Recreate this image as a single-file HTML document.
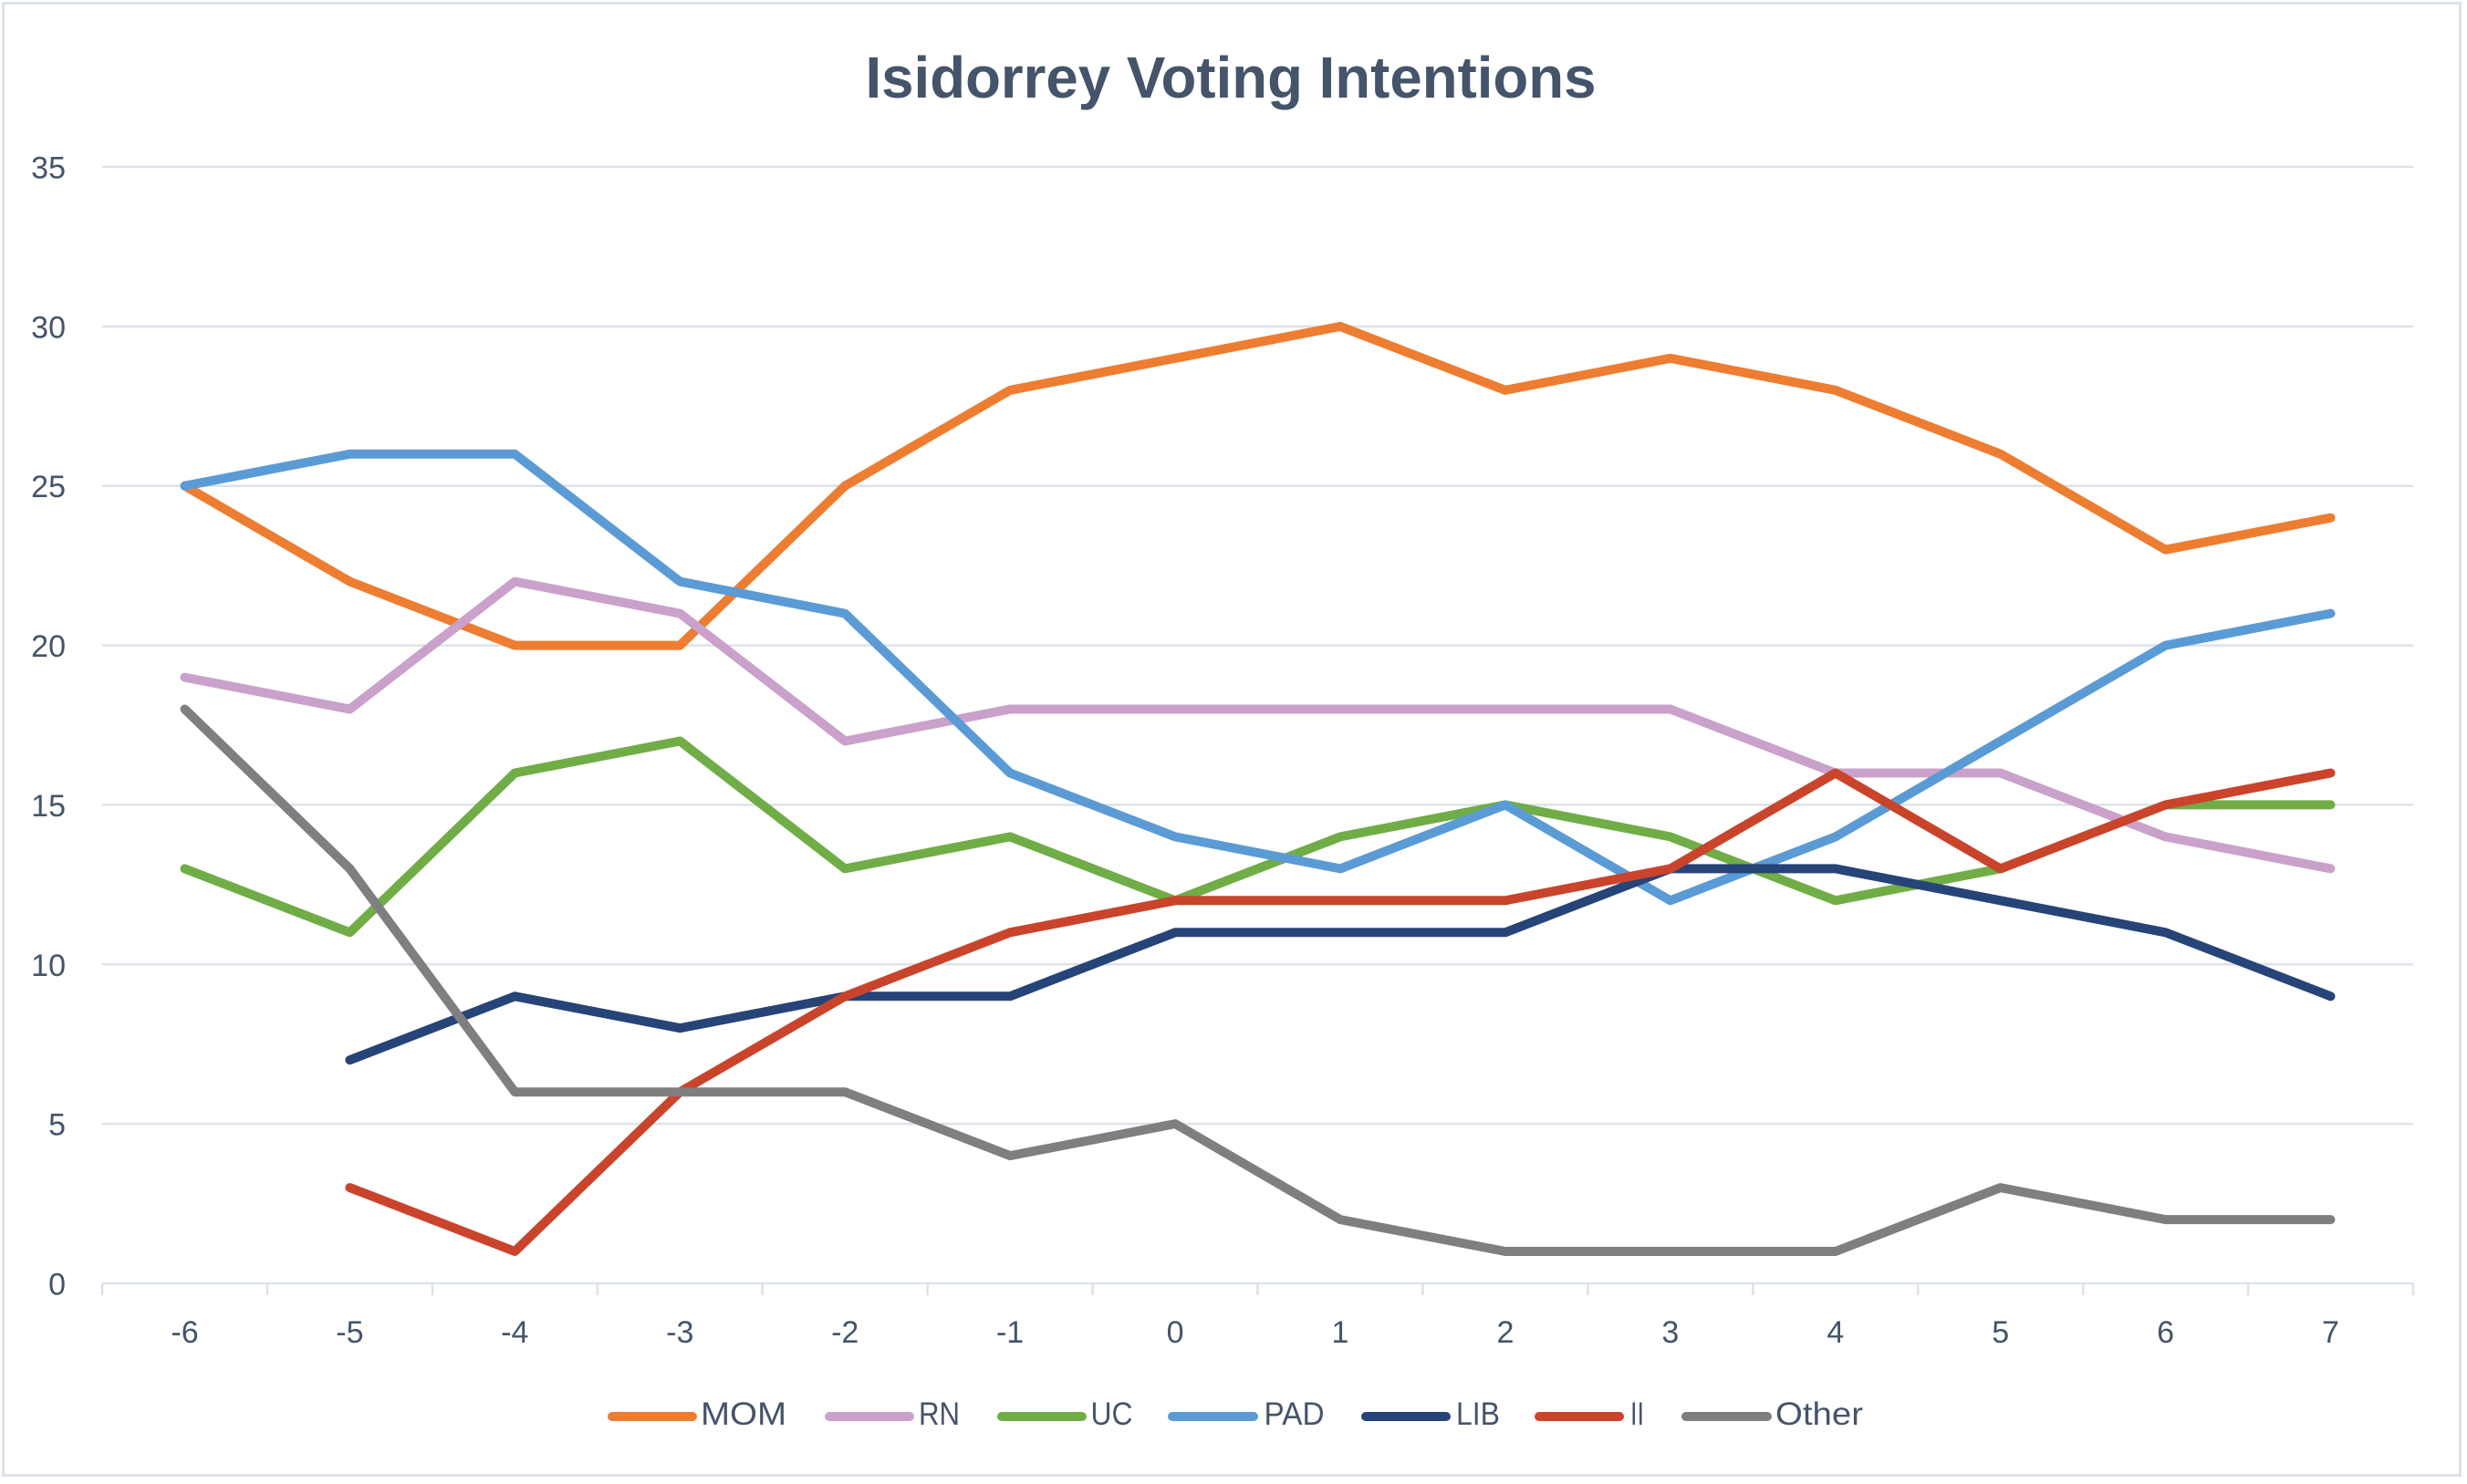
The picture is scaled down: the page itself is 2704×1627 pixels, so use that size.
<!DOCTYPE html>
<html><head><meta charset="utf-8"><style>
html,body{margin:0;padding:0;background:#fff;}
svg{display:block;}
text{font-family:"Liberation Sans",sans-serif;fill:#44546A;}
</style></head><body>
<svg width="2704" height="1627" viewBox="0 0 2704 1627" xmlns="http://www.w3.org/2000/svg">
<rect x="0" y="0" width="2704" height="1627" fill="#fff"/>
<rect x="3.5" y="3.5" width="2693" height="1614" fill="none" stroke="#DCE1E8" stroke-width="3"/>
<text x="1349" y="107" font-size="64" font-weight="bold" text-anchor="middle" textLength="801" lengthAdjust="spacingAndGlyphs">Isidorrey Voting Intentions</text>
<g stroke="#DDE2E9" stroke-width="2.5">
<line x1="112" y1="183" x2="2645" y2="183"/>
<line x1="112" y1="357.9" x2="2645" y2="357.9"/>
<line x1="112" y1="532.7" x2="2645" y2="532.7"/>
<line x1="112" y1="707.6" x2="2645" y2="707.6"/>
<line x1="112" y1="882.4" x2="2645" y2="882.4"/>
<line x1="112" y1="1057.3" x2="2645" y2="1057.3"/>
<line x1="112" y1="1232.1" x2="2645" y2="1232.1"/>
<line x1="112" y1="1407" x2="2645" y2="1407"/>
<line x1="112" y1="1407" x2="112" y2="1420"/>
<line x1="292.9" y1="1407" x2="292.9" y2="1420"/>
<line x1="473.9" y1="1407" x2="473.9" y2="1420"/>
<line x1="654.8" y1="1407" x2="654.8" y2="1420"/>
<line x1="835.7" y1="1407" x2="835.7" y2="1420"/>
<line x1="1016.7" y1="1407" x2="1016.7" y2="1420"/>
<line x1="1197.6" y1="1407" x2="1197.6" y2="1420"/>
<line x1="1378.5" y1="1407" x2="1378.5" y2="1420"/>
<line x1="1559.4" y1="1407" x2="1559.4" y2="1420"/>
<line x1="1740.4" y1="1407" x2="1740.4" y2="1420"/>
<line x1="1921.3" y1="1407" x2="1921.3" y2="1420"/>
<line x1="2102.2" y1="1407" x2="2102.2" y2="1420"/>
<line x1="2283.2" y1="1407" x2="2283.2" y2="1420"/>
<line x1="2464.1" y1="1407" x2="2464.1" y2="1420"/>
<line x1="2645" y1="1407" x2="2645" y2="1420"/>
</g>
<g font-size="34" text-anchor="end">
<text x="72" y="195.5">35</text>
<text x="72" y="370.4">30</text>
<text x="72" y="545.2">25</text>
<text x="72" y="720.1">20</text>
<text x="72" y="894.9">15</text>
<text x="72" y="1069.8">10</text>
<text x="72" y="1244.6">5</text>
<text x="72" y="1419.5">0</text>
</g>
<g font-size="34" text-anchor="middle">
<text x="202.5" y="1472">-6</text>
<text x="383.4" y="1472">-5</text>
<text x="564.3" y="1472">-4</text>
<text x="745.3" y="1472">-3</text>
<text x="926.2" y="1472">-2</text>
<text x="1107.1" y="1472">-1</text>
<text x="1288.1" y="1472">0</text>
<text x="1469" y="1472">1</text>
<text x="1649.9" y="1472">2</text>
<text x="1830.8" y="1472">3</text>
<text x="2011.8" y="1472">4</text>
<text x="2192.7" y="1472">5</text>
<text x="2373.6" y="1472">6</text>
<text x="2554.5" y="1472">7</text>
</g>
<g fill="none" stroke-width="10" stroke-linejoin="round" stroke-linecap="round">
<polyline stroke="#ED7D31" points="202.5,532.7 383.4,637.6 564.3,707.6 745.3,707.6 926.2,532.7 1107.1,427.8 1288.1,392.8 1469,357.9 1649.9,427.8 1830.8,392.8 2011.8,427.8 2192.7,497.8 2373.6,602.7 2554.5,567.7"/>
<polyline stroke="#C9A1CA" points="202.5,742.6 383.4,777.5 564.3,637.6 745.3,672.6 926.2,812.5 1107.1,777.5 1288.1,777.5 1469,777.5 1649.9,777.5 1830.8,777.5 2011.8,847.5 2192.7,847.5 2373.6,917.4 2554.5,952.4"/>
<polyline stroke="#70AD47" points="202.5,952.4 383.4,1022.3 564.3,847.5 745.3,812.5 926.2,952.4 1107.1,917.4 1288.1,987.3 1469,917.4 1649.9,882.4 1830.8,917.4 2011.8,987.3 2192.7,952.4 2373.6,882.4 2554.5,882.4"/>
<polyline stroke="#5B9BD5" points="202.5,532.7 383.4,497.8 564.3,497.8 745.3,637.6 926.2,672.6 1107.1,847.5 1288.1,917.4 1469,952.4 1649.9,882.4 1830.8,987.3 2011.8,917.4 2192.7,812.5 2373.6,707.6 2554.5,672.6"/>
<polyline stroke="#264478" points="383.4,1162.2 564.3,1092.3 745.3,1127.2 926.2,1092.3 1107.1,1092.3 1288.1,1022.3 1469,1022.3 1649.9,1022.3 1830.8,952.4 2011.8,952.4 2192.7,987.3 2373.6,1022.3 2554.5,1092.3"/>
<polyline stroke="#C9442B" points="383.4,1302.1 564.3,1372 745.3,1197.2 926.2,1092.3 1107.1,1022.3 1288.1,987.3 1469,987.3 1649.9,987.3 1830.8,952.4 2011.8,847.5 2192.7,952.4 2373.6,882.4 2554.5,847.5"/>
<polyline stroke="#7F7F7F" points="202.5,777.5 383.4,952.4 564.3,1197.2 745.3,1197.2 926.2,1197.2 1107.1,1267.1 1288.1,1232.1 1469,1337.1 1649.9,1372 1830.8,1372 2011.8,1372 2192.7,1302.1 2373.6,1337.1 2554.5,1337.1"/>
</g>
<g stroke-width="10" stroke-linecap="round">
<line x1="671" y1="1553" x2="759" y2="1553" stroke="#ED7D31"/>
<line x1="909" y1="1553" x2="997" y2="1553" stroke="#C9A1CA"/>
<line x1="1098" y1="1553" x2="1186" y2="1553" stroke="#70AD47"/>
<line x1="1285" y1="1553" x2="1374" y2="1553" stroke="#5B9BD5"/>
<line x1="1497" y1="1553" x2="1585" y2="1553" stroke="#264478"/>
<line x1="1687" y1="1553" x2="1775" y2="1553" stroke="#C9442B"/>
<line x1="1848" y1="1553" x2="1937" y2="1553" stroke="#7F7F7F"/>
</g>
<g font-size="35">
<text x="768" y="1562" textLength="94" lengthAdjust="spacingAndGlyphs">MOM</text>
<text x="1007" y="1562" textLength="45" lengthAdjust="spacingAndGlyphs">RN</text>
<text x="1195.5" y="1562" textLength="46" lengthAdjust="spacingAndGlyphs">UC</text>
<text x="1385.5" y="1562" textLength="66" lengthAdjust="spacingAndGlyphs">PAD</text>
<text x="1596" y="1562" textLength="48" lengthAdjust="spacingAndGlyphs">LIB</text>
<text x="1787" y="1562" textLength="15" lengthAdjust="spacingAndGlyphs">II</text>
<text x="1946" y="1562" textLength="96" lengthAdjust="spacingAndGlyphs">Other</text>
</g>
</svg>
</body></html>
